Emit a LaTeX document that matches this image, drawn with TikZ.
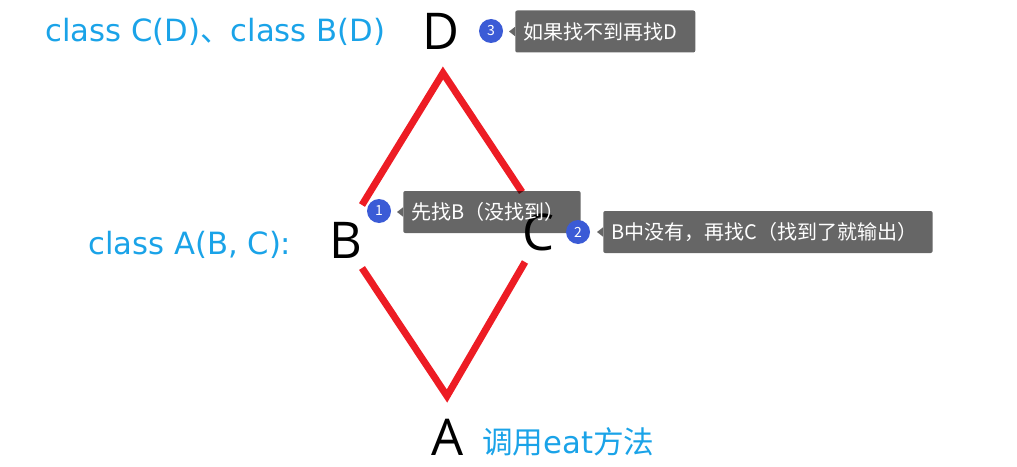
\documentclass[tikz,border=0pt]{standalone}
\usepackage{fontspec}
\setmainfont{Open Sans}
\newfontfamily\cjk{Noto Sans CJK SC}
\newfontfamily\wide{DejaVu Sans}
\usetikzlibrary{calc}
\definecolor{LabelBlue}{HTML}{1AA3E8}
\definecolor{BadgeBlue}{HTML}{3B5BD6}
\definecolor{LineRed}{HTML}{ED1C24}
\tikzset{
    % class letters
    cls/.style={
        inner sep=0pt,
        text=black,
        font=\fontsize{38}{38}\selectfont
    },
    % blue remarks
    remark/.style={
        inner sep=0pt,
        anchor=base west,
        text=LabelBlue,
        font=\wide\fontsize{23}{23}\selectfont
    },
    % numbered badges
    badge/.style={
        circle,
        fill=BadgeBlue,
        text=white,
        inner sep=0pt,
        minimum size=18pt,
        font=\cjk\fontsize{10.5}{10.5}\selectfont
    },
    % tooltip boxes
    callout/.style={
        rectangle,
        rounded corners=1.5pt,
        fill=black,
        fill opacity=0.6,
        text opacity=1,
        text=white,
        anchor=west,
        inner xsep=6pt,
        inner ysep=0pt,
        minimum height=31.5pt,
        align=left,
        font=\cjk\fontsize{15}{15}\selectfont
    },
    % inheritance lines
    edge/.style={
        draw=LineRed,
        line width=5.25pt
    }
}
\begin{document}
\begin{tikzpicture}[x=0.75pt, y=-0.75pt]
    \useasboundingbox (0,0) rectangle (1017,467);

    % Classes
    \node[cls] (D) at (441,31.5) {D};
    \node[cls] (B) at (345.5,240) {B};
    \node[cls] (C) at (538,232) {C};
    \node[cls] (A) at (448,437.5) {A};

    % Lines
    \draw[edge] ($(B)+(16.5,-35)$) -- ($(D)+(2,41.5)$) -- ($(C)+(-16,-40)$);
    \draw[edge] ($(B)+(16.5,28)$) -- ($(A)+(-1,-41.5)$) -- ($(C)+(-13,30)$);

    % Remarks
    \node[remark] (rD) at (45,42) {class C(D){\cjk 、}class B(D)};
    \node[remark] (rB) at (88,254) {class A(B, C):};
    \node[remark] (rA) at (482,453) {{\cjk 调用}eat{\cjk 方法}};

    % Search order
    \node[callout, text width=121pt] (t1) at (403,212) {先找B（没找到）};
    \node[callout, text width=235pt] (t2) at (603,232) {B中没有，再找C（找到了就输出）};
    \node[callout, text width=123pt] (t3) at (515,31.5) {如果找不到再找D};
    \foreach \t in {t1,t2,t3}
        \fill[black, fill opacity=0.6] ([yshift=3.5pt]\t.west) -- ([xshift=-4.5pt]\t.west) -- ([yshift=-3.5pt]\t.west) -- cycle;

    \node[badge] (n1) at (379,211) {1};
    \node[badge] (n2) at (578,232) {2};
    \node[badge] (n3) at (491,31) {3};
\end{tikzpicture}
\end{document}
